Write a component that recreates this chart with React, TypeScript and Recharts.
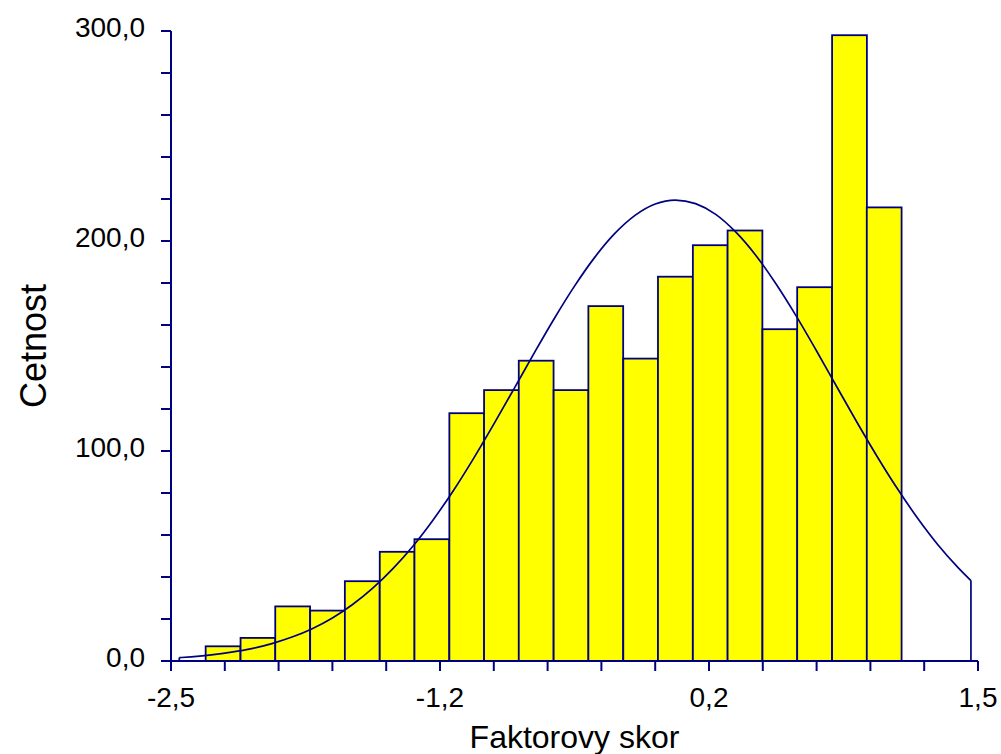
import {
  Bar,
  ComposedChart,
  Label,
  Line,
  ReferenceLine,
  XAxis,
  YAxis,
} from 'recharts';

// histogram bins (centres) and counts
const binCenters = [
  -2.242, -2.069, -1.897, -1.724, -1.552, -1.379, -1.207, -1.034, -0.862, -0.69,
  -0.517, -0.345, -0.172, 0.0, 0.173, 0.345, 0.518, 0.69, 0.863, 1.035,
];
const binCounts = [
  7, 11, 26, 24, 38, 52, 58, 118, 129, 143, 129, 169, 144, 183, 198, 205, 158, 178, 298, 216,
];
const BIN_WIDTH = 0.1725;

// fitted normal curve
const curveX = [
  -2.459, -2.4, -2.3, -2.2, -2.1, -2.0, -1.9, -1.8, -1.7, -1.6, -1.5, -1.4, -1.3, -1.2,
  -1.1, -1.0, -0.9, -0.8, -0.7, -0.6, -0.5, -0.4, -0.3, -0.2, -0.1, 0.0, 0.1, 0.2, 0.3,
  0.4, 0.5, 0.6, 0.7, 0.8, 0.9, 1.0, 1.1, 1.2, 1.3, 1.4, 1.465,
];
const curveY = [
  1.6, 2.0, 2.9, 4.2, 5.9, 8.3, 11.4, 15.4, 20.5, 26.9, 34.7, 44.0, 54.8, 67.3, 81.2,
  96.5, 112.8, 129.6, 146.6, 163.1, 178.5, 192.2, 203.6, 212.2, 217.6, 219.5, 217.8,
  212.7, 204.2, 193.0, 179.4, 164.1, 147.6, 130.6, 113.7, 97.4, 82.1, 68.1, 55.5, 44.6,
  38.3,
];

const xTicks = [
  -2.5, -2.2333, -1.9667, -1.7, -1.4333, -1.1667, -0.9, -0.6333, -0.3667, -0.1, 0.1667,
  0.4333, 0.7, 0.9667, 1.2333, 1.5,
];
const xTickLabels = ['-2,5', '-1,2', '0,2', '1,5'];
const yTicks = [0, 20, 40, 60, 80, 100, 120, 140, 160, 180, 200, 220, 240, 260, 280, 300];
const yTickLabels = ['0,0', '100,0', '200,0', '300,0'];

const NAVY = '#000080';
const FONT = 'Arial, "Liberation Sans", sans-serif';

const W = 1001;
const H = 754;
const margin = { top: 31, right: 23, left: 71, bottom: 43 };
const Y_AXIS_W = 100;
const X_AXIS_H = 50;
const PLOT_W = W - margin.left - margin.right - Y_AXIS_W;
const X_MIN = -2.5;
const X_MAX = 1.5;
const BAR_PX = (PLOT_W * BIN_WIDTH) / (X_MAX - X_MIN);

const barData = binCenters.map((x, i) => ({ x, count: binCounts[i] }));
const curveData = curveX.map((x, i) => ({ x, fit: curveY[i] }));

const XTick = ({ x, y, index }: any) => {
  if (index % 5 !== 0) return null;
  return (
    <text x={x} y={y + 34} textAnchor="middle" fontSize={28} fontFamily={FONT} fill="#000">
      {xTickLabels[index / 5]}
    </text>
  );
};

const YTick = ({ x, y, index }: any) => {
  if (index % 5 !== 0) return null;
  return (
    <text x={x - 14} y={y + 6} textAnchor="end" fontSize={28} fontFamily={FONT} fill="#000">
      {yTickLabels[index / 5]}
    </text>
  );
};

// bar centred on its bin, full bin width
const BinRect = ({ x, y, width, height }: any) => {
  if (height == null || isNaN(height)) return null;
  const cx = x + width / 2;
  return (
    <rect
      x={cx - BAR_PX / 2}
      y={y}
      width={BAR_PX}
      height={height}
      fill="#FFFF00"
      stroke={NAVY}
      strokeWidth={1.8}
    />
  );
};

export default function App() {
  const first = curveData[0];
  const last = curveData[curveData.length - 1];

  return (
    <div style={{ position: 'absolute', left: 0, top: 0, width: W, height: H, background: '#fff' }}>
      <ComposedChart width={W} height={H} data={barData} margin={margin}>
        <XAxis
          dataKey="x"
          type="number"
          domain={[X_MIN, X_MAX]}
          ticks={xTicks}
          interval={0}
          allowDataOverflow
          height={X_AXIS_H}
          axisLine={{ stroke: NAVY, strokeWidth: 2 }}
          tickLine={{ stroke: NAVY, strokeWidth: 2 }}
          tickSize={10}
          tick={<XTick />}
        >
          <Label
            content={({ viewBox }: any) => (
              <text
                x={viewBox.x + viewBox.width / 2}
                y={viewBox.y + 87}
                textAnchor="middle"
                fontSize={32}
                fontFamily={FONT}
                fill="#000"
              >
                Faktorovy skor
              </text>
            )}
          />
        </XAxis>
        <YAxis
          type="number"
          domain={[0, 300]}
          ticks={yTicks}
          interval={0}
          width={Y_AXIS_W}
          axisLine={{ stroke: NAVY, strokeWidth: 2 }}
          tickLine={{ stroke: NAVY, strokeWidth: 2 }}
          tickSize={10}
          tick={<YTick />}
        >
          <Label
            content={({ viewBox }: any) => {
              const cx = 46;
              const cy = viewBox.y + viewBox.height / 2;
              return (
                <text
                  x={cx}
                  y={cy}
                  transform={`rotate(-90, ${cx}, ${cy})`}
                  textAnchor="middle"
                  fontSize={36}
                  fontFamily={FONT}
                  fill="#000"
                >
                  Cetnost
                </text>
              );
            }}
          />
        </YAxis>
        <Bar dataKey="count" shape={<BinRect />} isAnimationActive={false} />
        <Line
          data={curveData}
          dataKey="fit"
          type="monotone"
          stroke={NAVY}
          strokeWidth={1.7}
          dot={false}
          activeDot={false}
          isAnimationActive={false}
        />
        <ReferenceLine
          segment={[
            { x: first.x, y: 0 },
            { x: first.x, y: first.fit },
          ]}
          stroke={NAVY}
          strokeWidth={1.7}
        />
        <ReferenceLine
          segment={[
            { x: last.x, y: 0 },
            { x: last.x, y: last.fit },
          ]}
          stroke={NAVY}
          strokeWidth={1.7}
        />
      </ComposedChart>
    </div>
  );
}
